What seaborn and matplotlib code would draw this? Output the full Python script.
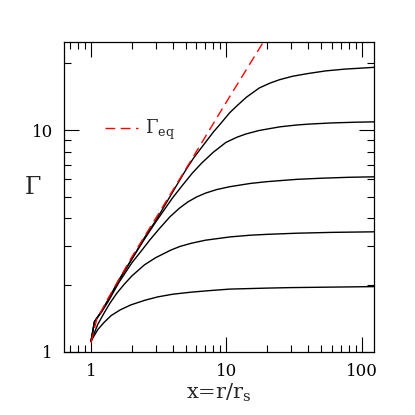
import numpy as np
import pandas as pd
import seaborn as sns
import matplotlib
matplotlib.use('Agg')
import matplotlib.pyplot as plt
from matplotlib.ticker import FixedLocator, NullFormatter, FuncFormatter

# values (log-log)
x_eq = [1.0, 1.05, 1.1, 1.34, 2.0, 3.0, 5.4, 10.0, 18.7, 20.0]
g_eq = [1.10, 1.25, 1.40, 1.75, 2.68, 4.0, 7.2, 13.4, 24.9, 26.6]

x_c1 = [1.0, 1.06, 1.2, 1.34, 1.6, 2.0, 2.5, 3.0, 4.0, 5.0, 5.69, 6.5, 8.0, 9.0,
        10.6, 12.0, 14.1, 17.5, 21.0, 24.8, 30.8, 40.0, 54.0, 75.0, 100.0, 123.0]
g_c1 = [1.12, 1.37, 1.53, 1.72, 2.1, 2.62, 3.3, 3.9, 5.25, 6.6, 7.45, 8.3, 9.8, 10.65,
        12.0, 12.9, 14.1, 15.5, 16.3, 16.9, 17.5, 18.0, 18.5, 18.85, 19.05, 19.2]

x_c2 = [1.0, 1.06, 1.2, 1.34, 1.6, 2.0, 2.5, 3.0, 4.0, 4.8, 5.6, 6.56, 8.0, 9.9,
        12.0, 14.0, 17.5, 24.8, 33.0, 40.8, 60.0, 90.0, 123.0]
g_c2 = [1.12, 1.37, 1.53, 1.72, 2.1, 2.62, 3.25, 3.85, 4.95, 5.7, 6.4, 7.1, 7.95, 8.8,
        9.3, 9.62, 9.97, 10.35, 10.55, 10.65, 10.78, 10.86, 10.9]

x_c3 = [1.0, 1.06, 1.2, 1.34, 1.6, 2.0, 2.4, 2.72, 3.2, 3.83, 4.5, 5.2, 6.03, 7.0,
        8.5, 10.6, 15.0, 20.0, 33.0, 50.0, 80.0, 123.0]
g_c3 = [1.12, 1.37, 1.52, 1.69, 2.05, 2.52, 2.9, 3.2, 3.6, 4.07, 4.45, 4.75, 5.0, 5.2,
        5.4, 5.56, 5.75, 5.86, 6.0, 6.07, 6.13, 6.16]

x_c4 = [1.0, 1.12, 1.25, 1.38, 1.55, 1.76, 2.0, 2.48, 3.0, 3.89, 4.54, 5.5, 7.0,
        10.6, 15.0, 20.0, 33.0, 60.0, 123.0]
g_c4 = [1.12, 1.33, 1.5, 1.66, 1.84, 2.02, 2.2, 2.47, 2.66, 2.88, 2.99, 3.09, 3.19,
        3.30, 3.36, 3.39, 3.43, 3.46, 3.48]

x_c5 = [1.0, 1.12, 1.25, 1.41, 1.65, 1.97, 2.5, 3.1, 4.0, 5.5, 7.5, 10.6, 20.0,
        30.0, 60.0, 123.0]
g_c5 = [1.12, 1.26, 1.36, 1.46, 1.55, 1.63, 1.71, 1.77, 1.82, 1.86, 1.89, 1.92, 1.94,
        1.95, 1.96, 1.97]

sns.set_style("ticks")
plt.rcParams['font.family'] = ['DejaVu Serif']
plt.rcParams['mathtext.fontset'] = 'dejavuserif'

fig = plt.figure(figsize=(4.15, 4.15), dpi=100)
ax = fig.add_axes([0.154, 0.152, 0.747, 0.747])

for xs, gs in [(x_c1, g_c1), (x_c2, g_c2), (x_c3, g_c3), (x_c4, g_c4), (x_c5, g_c5)]:
    sns.lineplot(x=xs, y=gs, color='black', lw=1.0, sort=False, estimator=None, ax=ax)

sns.lineplot(x=x_eq, y=g_eq, color='red', lw=1.0, sort=False, estimator=None, ax=ax,
             dashes=False, label=r'$\Gamma_{\rm eq}$')
ax.lines[-1].set_dashes((7, 4))

ax.set_xscale('log')
ax.set_yscale('log')
ax.set_xlim(0.63, 123)
ax.set_ylim(1, 25)

ax.xaxis.set_major_locator(FixedLocator([1, 10, 100]))
ax.yaxis.set_major_locator(FixedLocator([1, 10]))
ax.xaxis.set_minor_locator(FixedLocator([0.7, 0.8, 0.9] + [i for i in range(2, 10)]
                                        + [10 * i for i in range(2, 10)]))
ax.yaxis.set_minor_locator(FixedLocator([i for i in range(2, 10)] + [20]))
fmt = FuncFormatter(lambda v, p: '%g' % v)
ax.xaxis.set_major_formatter(fmt)
ax.yaxis.set_major_formatter(fmt)
ax.xaxis.set_minor_formatter(NullFormatter())
ax.yaxis.set_minor_formatter(NullFormatter())

ax.tick_params(which='both', direction='in', top=True, right=True, colors='black',
               labelsize=12, width=0.8)
ax.tick_params(which='major', length=10.5, pad=8)
ax.tick_params(which='minor', length=5)
for s in ax.spines.values():
    s.set_color('black')
    s.set_linewidth(0.9)

ax.set_xlabel(r'x=r/r$_{\rm s}$', fontsize=15, labelpad=1)
ax.set_ylabel(r'$\Gamma$', fontsize=17, rotation=0, ha='center', va='center')
ax.yaxis.set_label_coords(-0.1, 0.53)

leg = ax.legend(loc='center left', bbox_to_anchor=(0.11, 0.716), frameon=False,
                handlelength=1.8, fontsize=13, handletextpad=0.4, borderaxespad=0)

fig.savefig('out.png', dpi=100)
